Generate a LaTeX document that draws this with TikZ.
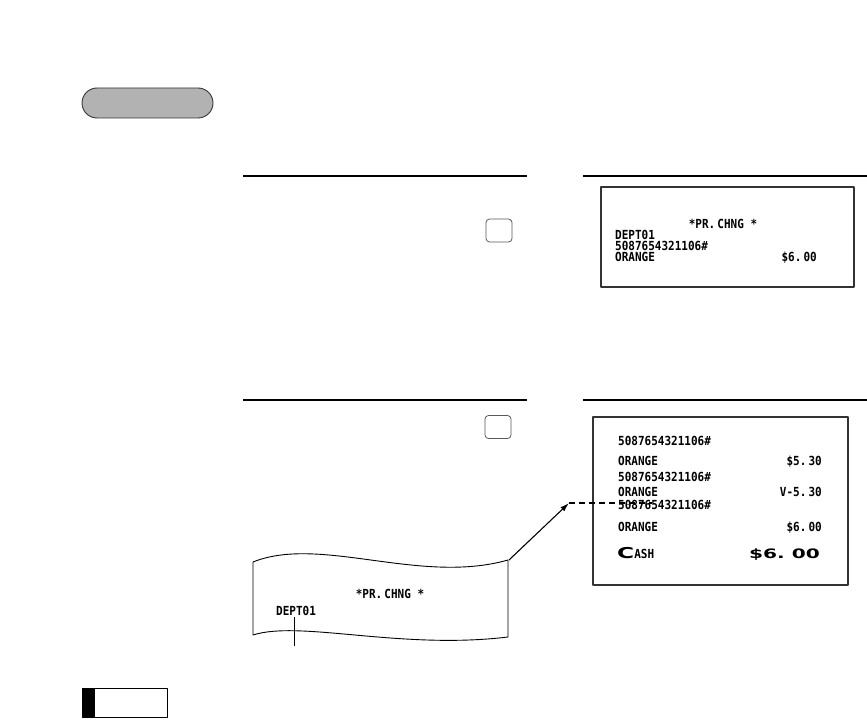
\documentclass[tikz,border=0pt]{standalone}
\usepackage{fontspec}
\newfontfamily\ticketfont[FakeStretch=0.88]{DejaVu Sans Mono}
\newfontfamily\widefont[FakeStretch=1.55]{DejaVu Sans}
\usetikzlibrary{arrows.meta, positioning, calc}

\begin{document}
\begin{tikzpicture}[x=1pt, y=-1pt, line join=round,
  rule/.style={line width=1.4pt},
  ticket/.style={font=\ticketfont\bfseries\fontsize{12.5}{12.5}\selectfont, inner sep=0pt},
  bigtotal/.style={font=\widefont\bfseries\fontsize{13}{13}\selectfont, inner sep=0pt},
  keycap/.style={draw=black!65, line width=0.8pt, rounded corners=3.5pt, minimum width=26pt, minimum height=23pt, inner sep=0pt},
  frame/.style={draw=black!80, line width=1.2pt}]

\useasboundingbox (0,0) rectangle (867,722);

% Etiqueta superior
\node[draw=black!80, fill=black!30, line width=0.9pt, rounded corners=15pt, minimum width=131pt, minimum height=30pt] (tab) at (147.5,103) {};

% Lineas de paso
\draw[rule] (243,176) -- (527,176);
\draw[rule] (583,176) -- (867,176);
\draw[rule] (243,400) -- (527,400);
\draw[rule] (583,400) -- (867,400);

% Teclas
\node[keycap] (key1) at (499,230.5) {};
\node[keycap] (key2) at (498,427) {};

% Recibo 1
\draw[frame] (601,187) rectangle (854,287);
\node[ticket, anchor=base] (r1head) at (723,228) {*PR.\,CHNG *};
\node[ticket, anchor=base west] (r1dept) at (615,239) {DEPT01};
\node[ticket, anchor=base west] (r1code) at (615,250) {5087654321106\#};
\node[ticket, anchor=base west] (r1item) at (615,261) {ORANGE};
\node[ticket, anchor=base east] (r1price) at (817,261) {\$6.\,00};

% Recibo 2
\draw[frame] (593,417) rectangle (848,585);
\node[ticket, anchor=base west] (r2codea) at (618,445) {5087654321106\#};
\node[ticket, anchor=base west] (r2itema) at (618,465) {ORANGE};
\node[ticket, anchor=base east] (r2pricea) at (822,465) {\$5.\,30};
\node[ticket, anchor=base west] (r2codeb) at (618,481) {5087654321106\#};
\node[ticket, anchor=base west] (r2itemb) at (618,496) {ORANGE};
\node[ticket, anchor=base east] (r2priceb) at (822,496) {V-5.\,30};
\node[ticket, anchor=base west] (r2codec) at (618,509) {5087654321106\#};
\node[ticket, anchor=base west] (r2itemc) at (618,531) {ORANGE};
\node[ticket, anchor=base east] (r2pricec) at (822,531) {\$6.\,00};
\node[inner sep=0pt, anchor=base west] (r2cash) at (617,558) {{\widefont\bfseries\fontsize{15}{15}\selectfont C}{\ticketfont\bfseries\fontsize{12.5}{12.5}\selectfont ASH}};
\node[bigtotal, anchor=base east] (r2total) at (820,558) {\$6.\ 00};

% Papel cortado
\draw[line width=0.9pt] (253,562) .. controls (320,535) and (420,585) .. (508,560)
  -- (508,637) .. controls (400,650) and (300,620) .. (253,635) -- cycle;
\node[ticket, anchor=base] (paperhead) at (390,598) {*PR.\,CHNG *};
\node[ticket, anchor=base west] (paperdept) at (276,615) {DEPT01};
\coordinate (leadend) at (294,646);
\draw[line width=0.8pt] (paperdept.south -| leadend) ++(0,2) -- (leadend);

% Flecha al recibo
\coordinate (tear) at (509,560);
\coordinate (tip) at (569,503);
\coordinate (dashend) at (652,503);
\draw[line width=1.1pt, -{Latex[length=9pt, width=5.5pt]}] (tear) -- (tip);
\draw[line width=1.3pt, dash pattern=on 6pt off 4pt] (tip) -- (dashend);

% Marca inferior
\draw[line width=1pt] (82,688) rectangle (167,717);
\fill[black] (82,688) rectangle (95,717);

\end{tikzpicture}
\end{document}
